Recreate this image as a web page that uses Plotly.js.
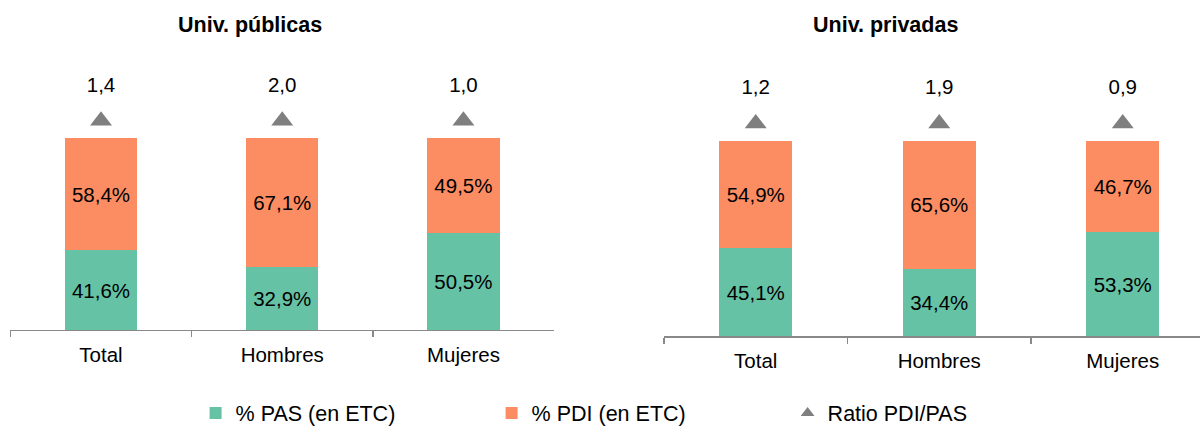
<!DOCTYPE html>
<html>
<head>
<meta charset="utf-8">
<script src="https://cdn.plot.ly/plotly-3.0.1.min.js"></script>
<style>html,body{margin:0;padding:0;background:#fff;}#chart{width:1200px;height:427px;}</style>
</head>
<body>
<div id="chart"></div>
<script>
// ---- Data ----
const categories = ["Total", "Hombres", "Mujeres"];
const pasPublicas = [41.6, 32.9, 50.5];
const pdiPublicas = [58.4, 67.1, 49.5];
const ratioPublicas = [1.4, 2.0, 1.0];
const pasPrivadas = [45.1, 34.4, 53.3];
const pdiPrivadas = [54.9, 65.6, 46.7];
const ratioPrivadas = [1.2, 1.9, 0.9];
const panelTitles = ["Univ. públicas", "Univ. privadas"];
const seriesNames = ["% PAS (en ETC)", "% PDI (en ETC)", "Ratio PDI/PAS"];

// ---- Style ----
const GREEN = "#66C2A5", ORANGE = "#FC8D62", GREY = "#7F7F7F", AXIS = "#898989";
const FONT = "Liberation Sans, Arial, sans-serif";
const MARKER_Y = 109;   // fixed drawing height of ratio markers
const LABEL_Y = 126.5;  // fixed drawing height of ratio labels

function panel(pas, pdi, ratio, xa, ya, showLegend) {
  const tf = {family: FONT, size: 20.5, color: "#000"};
  return [
    {type: "bar", x: categories, y: pas, name: seriesNames[0], xaxis: xa, yaxis: ya,
     marker: {color: GREEN}, texttemplate: "%{y:.1f}%", textposition: "inside",
     insidetextanchor: "middle", textangle: 0, textfont: tf, showlegend: showLegend,
     legendgroup: "pas", hoverinfo: "skip"},
    {type: "bar", x: categories, y: pdi, name: seriesNames[1], xaxis: xa, yaxis: ya,
     marker: {color: ORANGE}, texttemplate: "%{y:.1f}%", textposition: "inside",
     insidetextanchor: "middle", textangle: 0, textfont: tf, showlegend: showLegend,
     legendgroup: "pdi", hoverinfo: "skip"},
    {type: "scatter", mode: "markers", x: categories, y: categories.map(() => MARKER_Y),
     name: seriesNames[2], xaxis: xa, yaxis: ya, customdata: ratio, cliponaxis: false,
     marker: {symbol: "triangle-up", size: 19, color: GREY}, showlegend: showLegend,
     legendgroup: "ratio", hoverinfo: "skip"},
    {type: "scatter", mode: "text", x: categories, y: categories.map(() => LABEL_Y),
     customdata: ratio, texttemplate: "%{customdata:.1f}", textposition: "middle center",
     textfont: tf, xaxis: xa, yaxis: ya, showlegend: false, cliponaxis: false, hoverinfo: "skip"}
  ];
}

const data = [
  ...panel(pasPublicas, pdiPublicas, ratioPublicas, "x", "y", true),
  ...panel(pasPrivadas, pdiPrivadas, ratioPrivadas, "x2", "y2", false)
];

const xBase = {
  type: "category", showline: true, linecolor: AXIS, linewidth: 1.5,
  ticks: "outside", tickson: "boundaries", ticklen: 6, tickcolor: AXIS, tickwidth: 1.5,
  ticklabelstandoff: 6,
  showgrid: false, zeroline: false, fixedrange: true, automargin: false,
  tickfont: {family: FONT, size: 20.5, color: "#000"}
};
const yBase = {range: [0, 130], visible: false, showgrid: false, zeroline: false,
  fixedrange: true, automargin: false};

const layout = {
  width: 1200, height: 427,
  margin: {l: 0, r: 0, t: 0, b: 0, autoexpand: false},
  paper_bgcolor: "#fff", plot_bgcolor: "#fff",
  separators: ",.",
  barmode: "stack", bargap: 0.6,
  font: {family: FONT, size: 20, color: "#000"},
  xaxis: Object.assign({}, xBase, {domain: [0.00867, 0.4617], range: [-0.5, 2.5], anchor: "y"}),
  yaxis: Object.assign({}, yBase, {domain: [0.2272, 0.8117], anchor: "x"}),
  xaxis2: Object.assign({}, xBase, {domain: [0.5533, 1], range: [-0.5, 2.421], anchor: "y2"}),
  yaxis2: Object.assign({}, yBase, {domain: [0.2131, 0.8068], anchor: "x2"}),
  showlegend: true,
  legend: {
    orientation: "h", x: 0.163, xanchor: "left", y: 0.033, yanchor: "middle",
    font: {family: FONT, size: 21.5, color: "#000"},
    entrywidth: 251, entrywidthmode: "pixels", itemsizing: "constant",
    traceorder: "normal", bgcolor: "rgba(0,0,0,0)"
  },
  annotations: [
    {text: "<b>" + panelTitles[0] + "</b>", xref: "paper", yref: "paper", x: 0.2083, y: 0.9415,
     xanchor: "center", yanchor: "middle", showarrow: false,
     font: {family: FONT, size: 21.5, color: "#000"}},
    {text: "<b>" + panelTitles[1] + "</b>", xref: "paper", yref: "paper", x: 0.7383, y: 0.9415,
     xanchor: "center", yanchor: "middle", showarrow: false,
     font: {family: FONT, size: 21.5, color: "#000"}}
  ]
};

Plotly.newPlot("chart", data, layout, {displayModeBar: false, staticPlot: true});
</script>
</body>
</html>
